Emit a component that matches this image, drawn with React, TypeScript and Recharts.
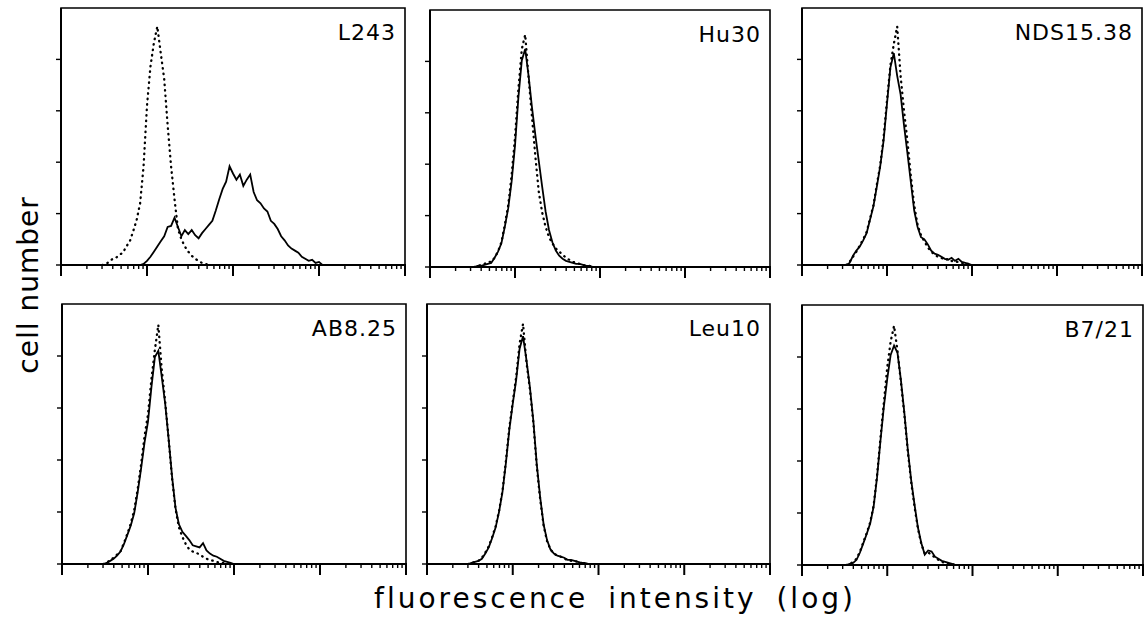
import { LineChart, Line, XAxis, YAxis, ReferenceArea } from 'recharts'

// fluorescence channel grid, in log10 units (4 decades)
const STEP = 0.04

const panelNames = ['L243', 'Hu30', 'NDS15.38', 'AB8.25', 'Leu10', 'B7/21']

// cell counts; dotted = control, solid = antibody
const l243DottedStart = 0.48
const l243Dotted = [0, 1, 3, 6, 7, 10, 12, 18, 23, 33, 44, 60, 96, 155, 193, 216, 232, 206, 181, 136, 96, 64, 35, 25, 18, 13, 9, 6, 4, 2, 1, 0]
const l243SolidStart = 0.92
const l243Solid = [0, 1, 4, 8, 13, 18, 23, 28, 37, 38, 46, 37, 28, 34, 30, 34, 29, 26, 31, 35, 39, 43, 53, 64, 74, 81, 96, 89, 83, 88, 77, 83, 88, 71, 63, 60, 55, 52, 43, 40, 35, 28, 24, 19, 16, 14, 12, 8, 6, 4, 5, 2, 3, 0]

const hu30Start = 0.52
const hu30Solid = [0, 1, 1, 2, 3, 4, 9, 15, 23, 39, 57, 83, 118, 165, 201, 212, 186, 155, 128, 103, 78, 54, 36, 24, 16, 11, 8, 6, 5, 4, 3, 3, 2, 1, 1, 0]
const hu30Dotted = [0, 1, 2, 3, 5, 5, 9, 15, 24, 41, 60, 89, 126, 173, 212, 226, 184, 146, 107, 73, 53, 39, 29, 23, 18, 15, 12, 9, 7, 5, 4, 3, 2, 1, 1, 0]

const nds1538Start = 0.52
const nds1538Solid = [0, 2, 9, 14, 18, 24, 31, 44, 57, 76, 96, 121, 157, 192, 206, 184, 166, 136, 109, 81, 53, 37, 27, 25, 20, 14, 11, 10, 8, 6, 5, 7, 4, 6, 3, 2, 1, 0]
const nds1538Dotted = [0, 3, 8, 13, 19, 25, 32, 45, 58, 78, 97, 124, 160, 194, 215, 232, 184, 150, 121, 87, 58, 39, 29, 23, 17, 13, 10, 8, 7, 5, 6, 4, 3, 3, 2, 1, 1, 0]

const ab825Start = 0.48
const ab825Solid = [0, 1, 3, 5, 8, 12, 19, 28, 37, 49, 69, 92, 117, 137, 170, 199, 205, 180, 154, 120, 84, 54, 38, 31, 27, 23, 18, 17, 16, 20, 13, 10, 8, 7, 5, 3, 2, 1, 0]
const ab825Dotted = [0, 1, 4, 6, 9, 12, 20, 29, 39, 52, 72, 96, 123, 144, 178, 206, 230, 187, 156, 120, 82, 53, 35, 26, 19, 14, 12, 11, 9, 7, 5, 4, 3, 2, 1, 1, 0]

const leu10Start = 0.48
const leu10Solid = [0, 1, 2, 3, 5, 10, 16, 25, 35, 50, 69, 97, 129, 154, 177, 207, 219, 196, 170, 138, 96, 64, 38, 23, 14, 10, 8, 7, 6, 4, 4, 3, 2, 1, 1, 0]
const leu10Dotted = [0, 1, 2, 3, 6, 11, 17, 26, 36, 51, 70, 99, 131, 156, 180, 212, 231, 194, 168, 136, 94, 62, 37, 22, 14, 10, 8, 7, 5, 4, 3, 3, 2, 1, 0, 0]

const b721Start = 0.52
const b721Solid = [0, 1, 2, 5, 12, 21, 30, 40, 56, 84, 119, 152, 179, 202, 211, 204, 178, 147, 112, 82, 58, 36, 21, 10, 14, 13, 8, 6, 4, 3, 2, 1, 0]
const b721Dotted = [0, 1, 3, 6, 13, 22, 31, 41, 57, 86, 122, 156, 190, 215, 230, 206, 176, 145, 110, 80, 56, 35, 20, 11, 12, 10, 7, 5, 3, 2, 1, 1, 0]

const yTicks = [0, 50, 100, 150, 200]

// log ticks: decades plus 2..9 inside each decade
const xTicks: number[] = []
for (let d = 0; d < 4; d++) {
  for (let m = 1; m <= 9; m++) xTicks.push(d + Math.log10(m))
}
xTicks.push(4)

const toRows = (start: number, values: number[]) =>
  values.map((y, i) => ({ x: +(start + i * STEP).toFixed(3), y }))

const panels = [
  { name: panelNames[0], left: 61, top: 8, w: 344, h: 257, solid: toRows(l243SolidStart, l243Solid), dotted: toRows(l243DottedStart, l243Dotted) },
  { name: panelNames[1], left: 430, top: 10, w: 340, h: 257, solid: toRows(hu30Start, hu30Solid), dotted: toRows(hu30Start, hu30Dotted) },
  { name: panelNames[2], left: 802, top: 8, w: 340, h: 257, solid: toRows(nds1538Start, nds1538Solid), dotted: toRows(nds1538Start, nds1538Dotted) },
  { name: panelNames[3], left: 62, top: 304, w: 344, h: 260, solid: toRows(ab825Start, ab825Solid), dotted: toRows(ab825Start, ab825Dotted) },
  { name: panelNames[4], left: 427, top: 304, w: 343, h: 260, solid: toRows(leu10Start, leu10Solid), dotted: toRows(leu10Start, leu10Dotted) },
  { name: panelNames[5], left: 802, top: 305, w: 341, h: 260, solid: toRows(b721Start, b721Solid), dotted: toRows(b721Start, b721Dotted) },
]

const FONT = '"DejaVu Sans", Verdana, sans-serif'
// axes need 1px of room or recharts skips drawing them
const M = { top: 6, right: 6, bottom: 19, left: 14 }

const LogTick = (props: any) => {
  const { x, y, payload } = props
  const major = Math.abs(payload.value - Math.round(payload.value)) < 1e-6
  return (
    <line x1={x} x2={x} y1={y - 1} y2={y - 1 + (major ? 12 : 5)} stroke="#000" strokeWidth={major ? 2 : 1.4} />
  )
}

function Panel({ p }: { p: (typeof panels)[number] }) {
  return (
    <div style={{ position: 'absolute', left: p.left - M.left - 1, top: p.top - M.top }}>
      <LineChart width={p.w + M.left + 1 + M.right} height={p.h + M.top + M.bottom + 1} margin={M}>
        <XAxis
          type="number"
          dataKey="x"
          domain={[0, 4]}
          ticks={xTicks}
          interval={0}
          height={1}
          tickSize={0}
          tickMargin={0}
          tickLine={false}
          tick={<LogTick />}
          axisLine={{ stroke: '#000', strokeWidth: 2 }}
          allowDataOverflow
        />
        <YAxis
          type="number"
          domain={[0, 250]}
          ticks={yTicks}
          width={1}
          tickSize={5}
          tickFormatter={() => ''}
          tickLine={{ stroke: '#000', strokeWidth: 1.4 }}
          axisLine={{ stroke: '#000', strokeWidth: 2 }}
          allowDataOverflow
        />
        <ReferenceArea
          x1={0}
          x2={4}
          y1={0}
          y2={250}
          fill="none"
          stroke="#000"
          strokeWidth={1.6}
          label={(lp: any) => {
            const vb = lp.viewBox
            return (
              <text
                x={vb.x + vb.width - 9}
                y={vb.y + 32}
                textAnchor="end"
                fontFamily={FONT}
                fontSize={22}
                letterSpacing={1}
                fill="#000"
              >
                {p.name}
              </text>
            )
          }}
        />
        <Line
          data={p.dotted}
          dataKey="y"
          type="linear"
          stroke="#000"
          strokeWidth={2.3}
          strokeDasharray="0.5 5"
          strokeLinecap="round"
          dot={false}
          isAnimationActive={false}
        />
        <Line
          data={p.solid}
          dataKey="y"
          type="linear"
          stroke="#000"
          strokeWidth={1.8}
          dot={false}
          isAnimationActive={false}
        />
      </LineChart>
    </div>
  )
}

export default function App() {
  return (
    <div style={{ position: 'absolute', left: 0, top: 0, width: 1144, height: 629, background: '#fff' }}>
      {panels.map((p) => (
        <Panel key={p.name} p={p} />
      ))}
      <svg width={1144} height={629} style={{ position: 'absolute', left: 0, top: 0, pointerEvents: 'none' }}>
        <text
          transform="translate(38,285) rotate(-90)"
          textAnchor="middle"
          fontFamily={FONT}
          fontSize={28}
          letterSpacing={1}
          fill="#000"
        >
          cell number
        </text>
        <text
          x={615}
          y={608}
          textAnchor="middle"
          fontFamily={FONT}
          fontSize={28}
          letterSpacing={3}
          wordSpacing={8}
          fill="#000"
        >
          fluorescence intensity (log)
        </text>
      </svg>
    </div>
  )
}
